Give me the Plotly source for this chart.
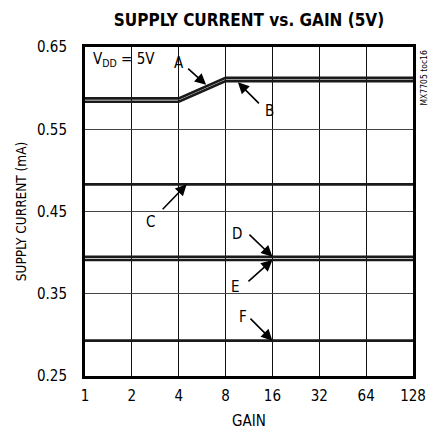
import math
import plotly.graph_objects as go

gain = [1, 2, 4, 8, 16, 32, 64, 128]
curve_a = [0.5875, 0.5875, 0.5875, 0.6125, 0.6125, 0.6125, 0.6125, 0.6125]
curve_b = [0.5835, 0.5835, 0.5835, 0.6085, 0.6085, 0.6085, 0.6085, 0.6085]
curve_c = [0.483] * 8
curve_d = [0.395] * 8
curve_e = [0.391] * 8
curve_f = [0.293] * 8
x_ticks = [1, 2, 4, 8, 16, 32, 64, 128]
y_ticks = [0.25, 0.35, 0.45, 0.55, 0.65]

FONT = "DejaVu Sans Condensed, Liberation Sans Narrow, Arial Narrow, sans-serif"

fig = go.Figure()
for name, ys in [("A", curve_a), ("B", curve_b), ("C", curve_c),
                 ("D", curve_d), ("E", curve_e), ("F", curve_f)]:
    fig.add_trace(go.Scatter(x=gain, y=ys, mode="lines", name=name,
                             line=dict(color="#1a1a1a", width=2.6),
                             showlegend=False, hoverinfo="skip"))

# arrows: (label, gain at tip, y tip, ax, ay, label x offset, label y offset)
arrows = [
    ("A", 6.0, 0.604, -21, -19, -27, -22),
    ("B", 9.6, 0.607, 24, 24, 32, 29),
    ("C", 4.5, 0.483, -27, 28, -36, 38),
    ("D", 16, 0.395, -26, -25, -35, -23),
    ("E", 16, 0.391, -27, 24, -37, 27),
    ("F", 16, 0.293, -25, -25, -29, -24),
]
annotations = []
for lab, xt, yt, ax, ay, lx, ly in arrows:
    lx10 = math.log10(xt)
    annotations.append(dict(x=lx10, y=yt, xref="x", yref="y", text=" ",
                            showarrow=True, ax=ax, ay=ay,
                            arrowhead=2, arrowsize=1.4, arrowwidth=1.6,
                            arrowcolor="black", standoff=0))
    annotations.append(dict(x=lx10, y=yt, xref="x", yref="y", text=lab,
                            showarrow=True, ax=lx, ay=ly, arrowcolor="rgba(0,0,0,0)",
                            arrowwidth=0.1, font=dict(family=FONT, size=15, color="black")))

annotations.append(dict(x=math.log10(1.1), y=0.6345, xref="x", yref="y",
                        text="V<sub>DD</sub> = 5V",
                        showarrow=False, xanchor="left", yanchor="middle",
                        font=dict(family=FONT, size=15, color="black")))
annotations.append(dict(x=(423.5 - 85) / 328, y=(376 - 78) / 329, xref="paper", yref="paper",
                        text="MX7705 toc16", showarrow=False, textangle=-90,
                        xanchor="center", yanchor="middle",
                        font=dict(family=FONT, size=8.5, color="black")))

fig.update_layout(
    width=428, height=434,
    margin=dict(l=85, r=15, t=47, b=58, autoexpand=False),
    paper_bgcolor="white", plot_bgcolor="white",
    title=dict(text="<b>SUPPLY CURRENT vs. GAIN (5V)</b>", automargin=False,
               x=249 / 428, xanchor="center", y=1 - 20 / 434, yanchor="middle",
               font=dict(family=FONT, size=17, color="black")),
    annotations=annotations,
    xaxis=dict(type="log", range=[0, math.log10(128)], tickvals=x_ticks,
               ticktext=[str(v) for v in x_ticks], automargin=False,
               showgrid=True, gridcolor="#111", gridwidth=1,
               showline=True, linecolor="black", linewidth=3, mirror=True,
               ticks="", zeroline=False, ticklabelstandoff=4,
               tickfont=dict(family=FONT, size=15, color="black"),
               title=dict(text="GAIN", font=dict(family=FONT, size=15, color="black"),
                          standoff=12)),
    yaxis=dict(range=[0.25, 0.65], tickvals=y_ticks,
               ticktext=[f"{v:.2f}" for v in y_ticks], automargin=False,
               showgrid=True, gridcolor="#444", gridwidth=1,
               showline=True, linecolor="black", linewidth=3, mirror=True,
               ticks="", zeroline=False, ticklabelstandoff=12,
               tickfont=dict(family=FONT, size=15, color="black"),
               title=dict(text="SUPPLY CURRENT (mA)",
                          font=dict(family=FONT, size=13.5, color="black"),
                          standoff=8)),
)

fig.write_html("out.html", config={"displayModeBar": False},
               post_script="document.body.style.margin='0';")
